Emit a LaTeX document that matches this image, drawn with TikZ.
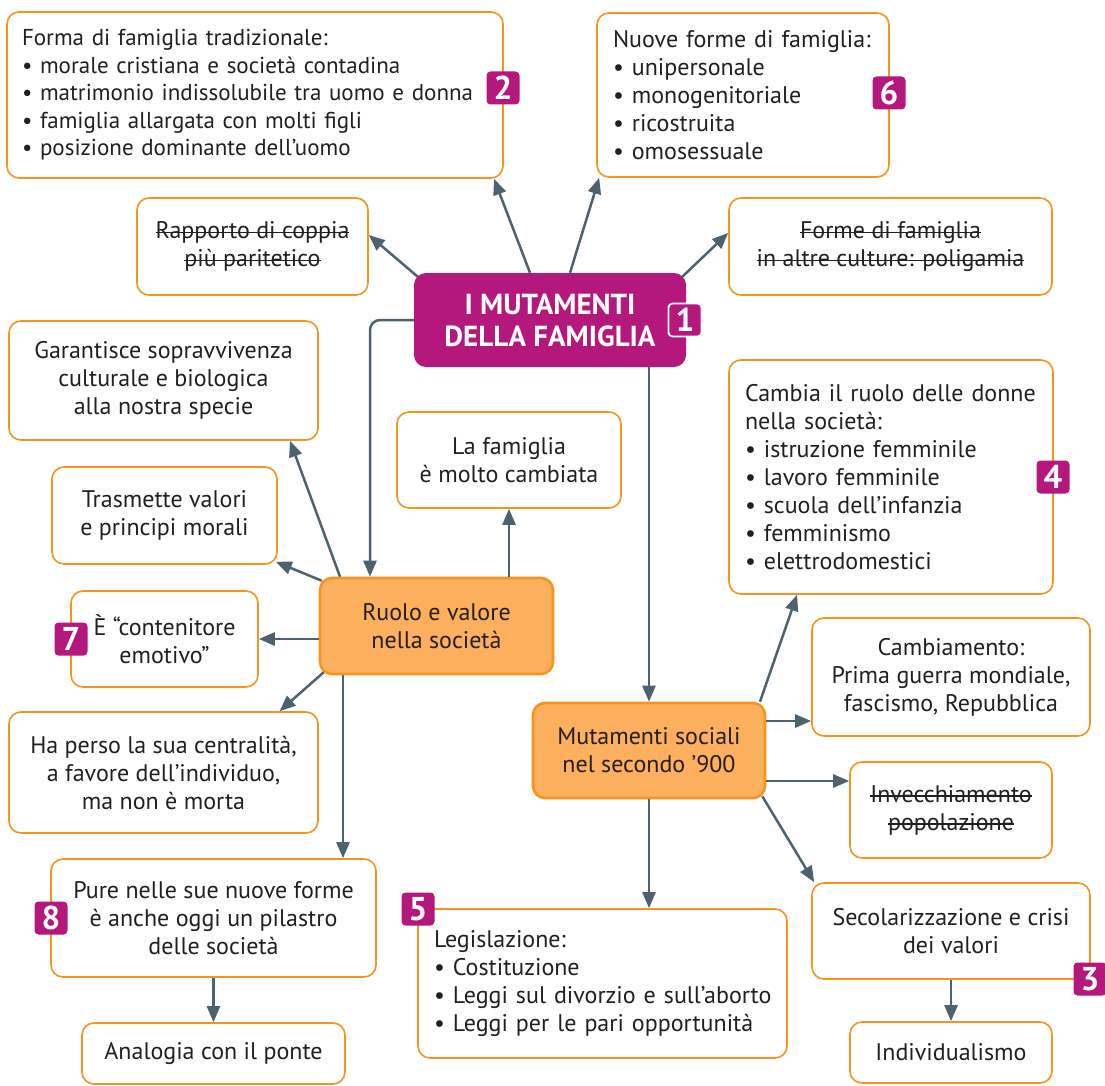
\documentclass[tikz,border=0pt]{standalone}
\usepackage{fontspec}
\setmainfont{PT Sans}
\usetikzlibrary{arrows.meta,calc}

\definecolor{mag}{RGB}{181,24,124}
\definecolor{orline}{RGB}{247,148,30}
\definecolor{orfill}{RGB}{252,175,93}
\definecolor{arrowc}{RGB}{77,98,110}
\definecolor{ink}{RGB}{35,31,32}

% struck-through text: a thin rule across the word box
\newcommand{\strk}[1]{\sbox0{#1}\rlap{\rule[0.22em]{\wd0}{1.4pt}}\usebox0}

\tikzset{
  box/.style={draw=orline, line width=1.6pt, rounded corners=12pt, fill=white,
    text=ink, align=center, inner sep=0pt,
    font=\fontsize{24}{28}\selectfont},
  listbox/.style={box, align=left, inner xsep=16pt},
  keybox/.style={box, fill=orfill, line width=2.6pt},
  topbox/.style={fill=mag, rounded corners=12pt, text=white, align=center,
    inner sep=0pt, font=\bfseries\fontsize{29}{32}\selectfont},
  badge/.style={fill=mag, rounded corners=4pt, minimum size=33pt, inner sep=0pt,
    text=white, font=\bfseries\fontsize{33}{33}\selectfont},
  arr/.style={draw=arrowc, line width=2.5pt, -{Triangle[length=16pt,width=13pt]}},
}

\begin{document}
\begin{tikzpicture}[x=1pt,y=-1pt]
\useasboundingbox (0,0) rectangle (1105,1086);

% --- boxes ---
\node[listbox, minimum width=496pt, minimum height=166pt, text width=466pt,
      inner xsep=15pt, font=\fontsize{23}{27.5}\selectfont] (b2) at (255,95)
  {Forma di famiglia tradizionale:\\
   \textbullet\ morale cristiana e società contadina\\
   \textbullet\ matrimonio indissolubile tra uomo e donna\\
   \textbullet\ famiglia allargata con molti figli\\
   \textbullet\ posizione dominante dell’uomo};
\node[listbox, minimum width=292pt, minimum height=164pt, text width=260pt] (b6) at (743,95)
  {Nuove forme di famiglia:\\
   \textbullet\ unipersonale\\
   \textbullet\ monogenitoriale\\
   \textbullet\ ricostruita\\
   \textbullet\ omosessuale};
\node[box, minimum width=231pt, minimum height=97pt] (rap) at (252.5,246.5)
  {\strk{Rapporto di coppia}\\\strk{più paritetico}};
\node[box, minimum width=323pt, minimum height=97pt] (alt) at (890.5,246.5)
  {\strk{Forme di famiglia}\\\strk{in altre culture: poligamia}};
\node[topbox, minimum width=272pt, minimum height=94pt] (c) at (550,320)
  {I MUTAMENTI\\DELLA FAMIGLIA};
\node[box, minimum width=309pt, minimum height=119pt] (gar) at (163.5,380.5)
  {Garantisce sopravvivenza\\culturale e biologica\\alla nostra specie};
\node[box, minimum width=224pt, minimum height=96pt] (lf) at (509,460)
  {La famiglia\\è molto cambiata};
\node[listbox, minimum width=324pt, minimum height=234pt, text width=292pt] (don) at (891,477)
  {Cambia il ruolo delle donne\\
   nella società:\\
   \textbullet\ istruzione femminile\\
   \textbullet\ lavoro femminile\\
   \textbullet\ scuola dell’infanzia\\
   \textbullet\ femminismo\\
   \textbullet\ elettrodomestici};
\node[box, minimum width=225pt, minimum height=97pt] (tra) at (164.5,515.5)
  {Trasmette valori\\e principi morali};
\node[keybox, minimum width=233pt, minimum height=96pt] (r) at (436.5,626)
  {Ruolo e valore\\nella società};
\node[box, minimum width=187pt, minimum height=96pt] (emo) at (164.5,639)
  {È “contenitore\\emotivo”};
\node[box, minimum width=278pt, minimum height=118pt] (cam) at (951,677)
  {Cambiamento:\\Prima guerra mondiale,\\fascismo, Repubblica};
\node[keybox, minimum width=232pt, minimum height=95pt] (m) at (649,750.5)
  {Mutamenti sociali\\nel secondo ’900};
\node[box, minimum width=309pt, minimum height=121pt] (per) at (163.5,772.5)
  {Ha perso la sua centralità,\\a favore dell’individuo,\\ma non è morta};
\node[box, minimum width=202pt, minimum height=96pt] (inv) at (951,810)
  {\strk{Invecchiamento}\\\strk{popolazione}};
\node[box, minimum width=325pt, minimum height=118pt] (pil) at (213.5,918)
  {Pure nelle sue nuove forme\\è anche oggi un pilastro\\delle società};
\node[listbox, minimum width=369pt, minimum height=149pt, text width=337pt] (leg) at (602.5,983.5)
  {Legislazione:\\
   \textbullet\ Costituzione\\
   \mbox{\textbullet\ Leggi sul divorzio e sull’aborto}\\
   \textbullet\ Leggi per le pari opportunità};
\node[box, minimum width=278pt, minimum height=96pt] (sec) at (951,931)
  {Secolarizzazione e crisi\\dei valori};
\node[box, minimum width=263pt, minimum height=61pt] (ana) at (213.5,1053.5)
  {Analogia con il ponte};
\node[box, minimum width=202pt, minimum height=61pt] (ind) at (951,1052.5)
  {Individualismo};

% --- connectors ---
\draw[arr] ($(c.north)+(-20,0)$) -- ($(b2.south)+(239,0)$);
\draw[arr] ($(c.north)+(20,0)$) -- ($(b6.south west)+(3,0)$);
\draw[arr] ($(c.north west)+(4,4)$) -- ($(rap.east)+(0,-11.5)$);
\draw[arr] ($(c.north east)+(-4,4)$) -- ($(alt.west)+(0,-13.5)$);
\draw[arr, rounded corners=10pt] (c.west) -| ($(r.north)+(-66.5,0)$);
\draw[arr] (c.south -| m.north) -- (m.north);
\draw[arr] ($(r.north)+(-96.5,0)$) -- ($(gar.south)+(126.5,0)$);
\draw[arr] (r.north -| lf.south) -- (lf.south);
\draw[arr] ($(r.north west)+(3,4)$) -- ($(tra.south east)+(-2,-3)$);
\draw[arr] (emo.east -| r.west) -- (emo.east);
\draw[arr] ($(r.south west)+(5,-3)$) -- ($(per.north)+(116,0)$);
\draw[arr] ($(r.south)+(-93.5,0)$) -- ($(pil.north)+(129.5,0)$);
\draw[arr] (pil.south) -- (ana.north);
\draw[arr] ($(m.north)+(111,0)$) -- ($(don.south)+(-94,0)$);
\draw[arr] ($(m.east)+(0,-29.5)$) -- ($(cam.west)+(0,44)$);
\draw[arr] ($(m.east)+(0,30.5)$) -- ($(inv.west)+(0,-29)$);
\draw[arr] ($(m.south east)+(-4,-3)$) -- ($(sec.north west)+(3,0)$);
\draw[arr] (m.south) -- (m.south |- leg.north);
\draw[arr] (sec.south) -- (ind.north);

% --- numbered badges ---
\node[badge, draw=white, line width=1.8pt] (n1) at (685,320) {1};
\node[badge] (n2) at (503,88) {2};
\node[badge] (n3) at (1090,979) {3};
\node[badge] (n4) at (1053,477) {4};
\node[badge] (n5) at (418,909) {5};
\node[badge] (n6) at (889,93) {6};
\node[badge] (n7) at (71,639) {7};
\node[badge] (n8) at (51,918) {8};
\end{tikzpicture}
\end{document}
